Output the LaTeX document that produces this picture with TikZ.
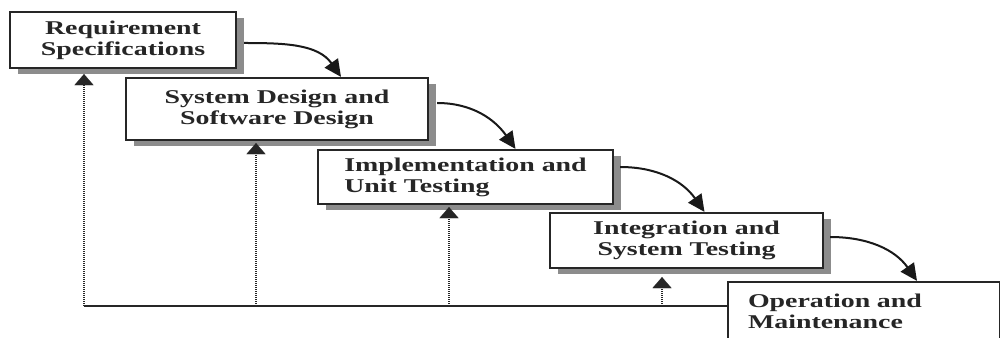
\documentclass[tikz,border=0pt]{standalone}
\usepackage{fontspec}
\newfontfamily\boxfont{Liberation Serif}[FakeStretch=1.43]
\usetikzlibrary{arrows.meta,shadows}
\begin{document}
\begin{tikzpicture}[x=1pt,y=1pt,
  stage/.style={draw=black!85, line width=2.2pt, fill=white, inner sep=0pt,
    font=\boxfont\bfseries\fontsize{19.5}{21}\selectfont, text=black!85,
    drop shadow={shadow xshift=8pt, shadow yshift=-6pt, fill=black!45, opacity=1}},
  curv/.style={line width=2pt, draw=black!90, -{Triangle[length=17pt,width=16pt]}},
  fb/.style={line width=2.5pt, draw=black!85, dash pattern=on 1.3pt off 0.7pt,
    -{Triangle[length=11pt,width=19pt,line width=0.1pt]}},
  base/.style={line width=2pt, draw=black!85}]
\fill[white] (0,0) rectangle (1000,337);
\useasboundingbox (0,0) rectangle (1000,337);

\node[stage, minimum width=226, minimum height=56, align=center] (b1) at (123,297)
  {Requirement\\Specifications};
\node[stage, minimum width=302, minimum height=62, align=center] (b2) at (277,228)
  {System Design and\\Software Design};
\node[stage, minimum width=295, minimum height=54, align=left] (b3) at (465.5,160)
  {Implementation and\\Unit Testing};
\node[stage, minimum width=273, minimum height=55, align=center] (b4) at (686.5,96.5)
  {Integration and\\System Testing};
\node[stage, minimum width=272, minimum height=59, inner xsep=20pt, text width=232pt, align=left] (b5) at (864,25.5)
  {Operation and\\Maintenance};

\draw[curv] ([xshift=7pt,yshift=-3pt]b1.east) to[out=0,in=125] ([xshift=64pt]b2.north);
\draw[curv] ([xshift=8pt,yshift=6pt]b2.east) to[out=0,in=125] ([xshift=50pt]b3.north);
\draw[curv] ([xshift=6pt,yshift=10pt]b3.east) to[out=0,in=125] ([xshift=18pt]b4.north);
\draw[curv] ([xshift=6pt,yshift=3.5pt]b4.east) to[out=0,in=125] ([xshift=53pt]b5.north);

\coordinate (f1) at (84,31);
\coordinate (f2) at (256,31);
\coordinate (f3) at (449,31);
\coordinate (f4) at (662,31);

\draw[base] (f1) -- (f1 -| b5.west);
\draw[fb, shorten >=5pt] (f1) -- (f1 |- b1.south);
\draw[fb, shorten >=2pt] (f2) -- (f2 |- b2.south);
\draw[fb, shorten >=2pt] (f3) -- (f3 |- b3.south);
\draw[fb, shorten >=8pt] (f4) -- (f4 |- b4.south);
\end{tikzpicture}
\end{document}
